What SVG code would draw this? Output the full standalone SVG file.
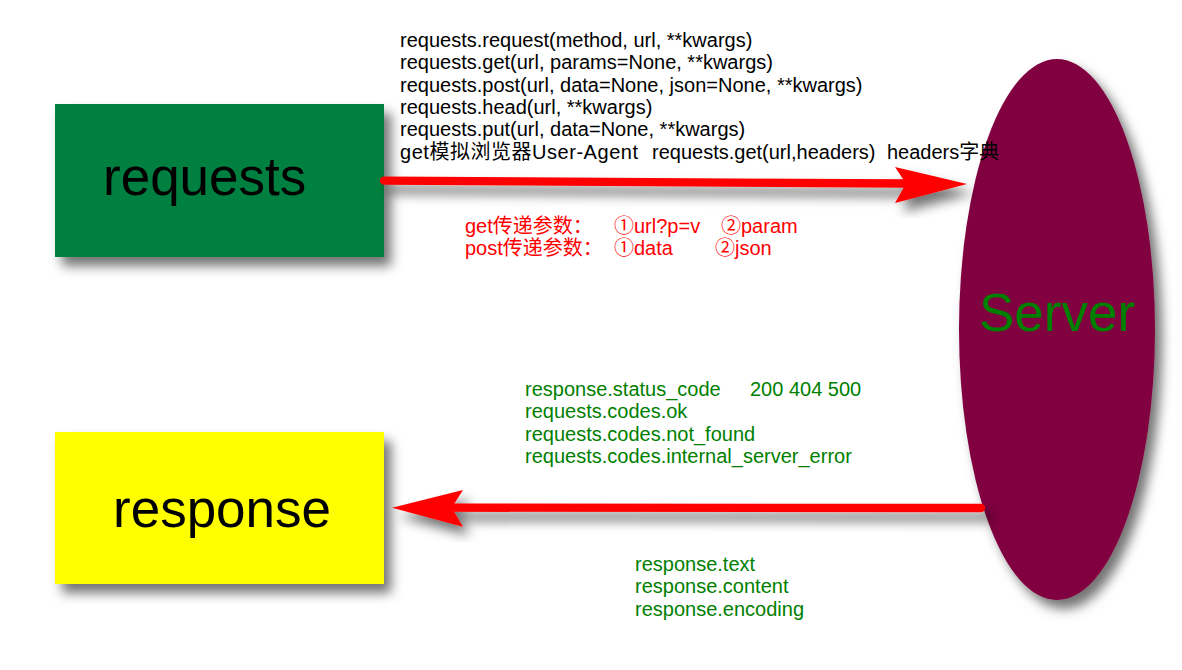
<svg xmlns="http://www.w3.org/2000/svg" width="1182" height="670" viewBox="0 0 1182 670">
  <defs>
    <filter id="shadow" x="-20%" y="-20%" width="150%" height="160%">
      <feDropShadow dx="7" dy="9" stdDeviation="6" flood-color="#000" flood-opacity="0.55"/>
    </filter>
  </defs>
  <style>
    .lbl { font-family: "Liberation Sans", Arial, "Noto Sans CJK SC", sans-serif; }
    .big { font-size: 53px; }
    .code { font-size: 20px; }
    .blk { fill: #000000; }
    .red { fill: #ff0000; }
    .grn { fill: #008000; }
    .arrow { fill: #ff0000; stroke: none; }
    .shaft { stroke: #ff0000; stroke-width: 8.3; stroke-linecap: round; fill: none; }
  </style>
  <rect width="1182" height="670" fill="#ffffff"/>

  <g id="requests">
    <rect x="55" y="104" width="329" height="153" fill="#008040" filter="url(#shadow)"/>
    <text class="lbl big blk" x="103" y="195">requests</text>
  </g>

  <g id="response">
    <rect x="55" y="432" width="329" height="152" fill="#ffff00" filter="url(#shadow)"/>
    <text class="lbl big blk" x="113" y="527">response</text>
  </g>

  <g id="server">
    <ellipse cx="1057" cy="329.5" rx="98" ry="270.5" fill="#800040" filter="url(#shadow)"/>
    <text class="lbl big grn" x="979" y="331">Server</text>
  </g>

  <g id="connectors">
    <g filter="url(#shadow)">
      <line class="shaft" x1="384" y1="180.7" x2="910" y2="183.5"/>
      <polygon class="arrow" points="967,184 895,167 906,183.5 895,203"/>
    </g>
    <g filter="url(#shadow)">
      <line class="shaft" x1="981" y1="508" x2="448" y2="507.7"/>
      <polygon class="arrow" points="392,507.7 463,490 451.7,507.7 463,526.7"/>
    </g>
  </g>

  <g id="request-methods" class="lbl code blk">
    <text x="400" y="47">requests.request(method, url, **kwargs)</text>
    <text x="400" y="69.3">requests.get(url, params=None, **kwargs)</text>
    <text x="400" y="91.6">requests.post(url, data=None, json=None, **kwargs)</text>
    <text x="400" y="113.9">requests.head(url, **kwargs)</text>
    <text x="400" y="136.2">requests.put(url, data=None, **kwargs)</text>
    <text y="158.5"><tspan x="400" textLength="238" lengthAdjust="spacing">get模拟浏览器User-Agent</tspan><tspan x="652">requests.get(url,headers)</tspan><tspan x="887">headers字典</tspan></text>
  </g>

  <g id="params" class="lbl code red">
    <text y="233"><tspan x="465">get传递参数：</tspan><tspan x="614">①url?p=v</tspan><tspan x="721">②param</tspan></text>
    <text y="255"><tspan x="465">post传递参数：</tspan><tspan x="614">①data</tspan><tspan x="715">②json</tspan></text>
  </g>

  <g id="status" class="lbl code grn">
    <text y="396"><tspan x="525">response.status_code</tspan><tspan x="750">200 404 500</tspan></text>
    <text x="525" y="418.3">requests.codes.ok</text>
    <text x="525" y="440.6">requests.codes.not_found</text>
    <text x="525" y="463">requests.codes.internal_server_error</text>
  </g>

  <g id="content" class="lbl code grn">
    <text x="635" y="571">response.text</text>
    <text x="635" y="593.3">response.content</text>
    <text x="635" y="615.6">response.encoding</text>
  </g>
</svg>
